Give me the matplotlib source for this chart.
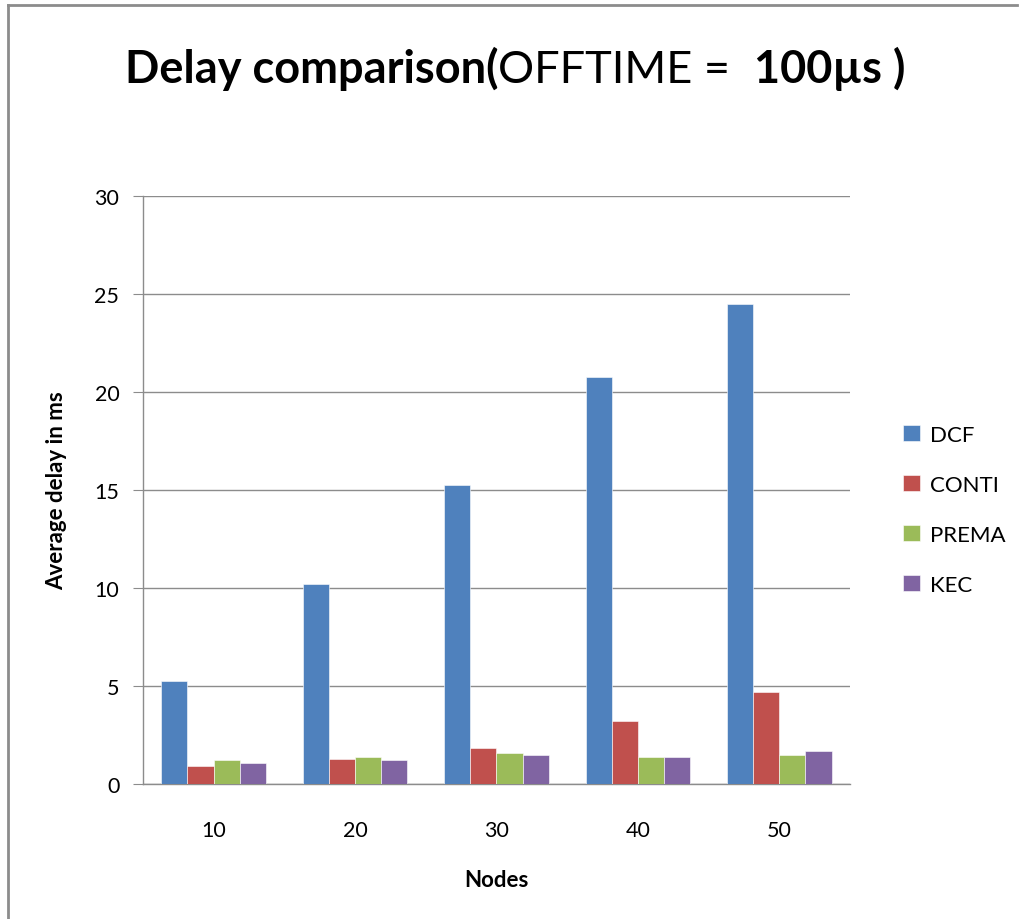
import numpy as np
import matplotlib.pyplot as plt
from matplotlib.lines import Line2D

plt.rcParams['font.family'] = ['Lato', 'DejaVu Sans']

nodes = ['10', '20', '30', '40', '50']
series = ['DCF', 'CONTI', 'PREMA', 'KEC']
dcf = [5.25, 10.2, 15.27, 20.74, 24.5]
conti = [0.94, 1.28, 1.86, 3.23, 4.67]
prema = [1.21, 1.40, 1.59, 1.40, 1.46]
kec = [1.07, 1.21, 1.47, 1.40, 1.67]
colors = ['#4f81bd', '#c0504d', '#9bbb59', '#8064a2']

fig = plt.figure(figsize=(10.21, 9.2), dpi=100)
ax = fig.add_axes([0.140, 0.1467, 0.6925, 0.6392])

x = np.arange(len(nodes))
w = 0.185
for i, (vals, name) in enumerate(zip([dcf, conti, prema, kec], series)):
    ax.bar(x + (i - 1.5) * w, vals, w, color=colors[i], label=name,
           edgecolor='white', linewidth=0.4, zorder=3)

ax.set_xlim(-0.5, len(nodes) - 0.5)
ax.set_ylim(0, 30)
ax.set_yticks(range(0, 31, 5))
ax.set_xticks(x)
ax.set_xticklabels(nodes)
ax.grid(axis='y', color='#8c8c8c', linewidth=1.0, zorder=0)
for s in ['top', 'right']:
    ax.spines[s].set_visible(False)
for s in ['left', 'bottom']:
    ax.spines[s].set_color('#8c8c8c')
    ax.spines[s].set_linewidth(1.0)
ax.tick_params(axis='y', length=7, color='#8c8c8c', labelsize=15.5, pad=10)
ax.tick_params(axis='x', length=0, labelsize=15.5, pad=26)

ax.set_ylabel('Average delay in ms', fontsize=16, fontweight='bold', labelpad=20)
ax.set_xlabel('Nodes', fontsize=16, fontweight='bold', labelpad=21)

ax.legend(loc='center left', bbox_to_anchor=(903 / 1021, 1 - 511 / 920),
          bbox_transform=fig.transFigure, frameon=False, borderpad=0,
          borderaxespad=0, fontsize=16, handlelength=0.75, handleheight=0.75,
          labelspacing=1.35, handletextpad=0.45)

# title in three pieces: bold / regular / bold
renderer = fig.canvas.get_renderer()
pieces = [('Delay comparison(', 'bold'), ('OFFTIME =  ', 'normal'), ('100µs )', 'bold')]
xpos = 125 / 1021
for txt, wt in pieces:
    t = fig.text(xpos, 1 - 83 / 920, txt, fontsize=32.5, fontweight=wt,
                 ha='left', va='baseline')
    bb = t.get_window_extent(renderer)
    xpos = bb.x1 / fig.bbox.width

# frame lines on left and top edges
fig.add_artist(Line2D([8 / 1021, 8 / 1021], [0, 1 - 6 / 920], color='#8c8c8c', linewidth=2))
fig.add_artist(Line2D([8 / 1021, 1017 / 1021], [1 - 6 / 920, 1 - 6 / 920], color='#8c8c8c', linewidth=2))

fig.savefig('out.png', dpi=100)
